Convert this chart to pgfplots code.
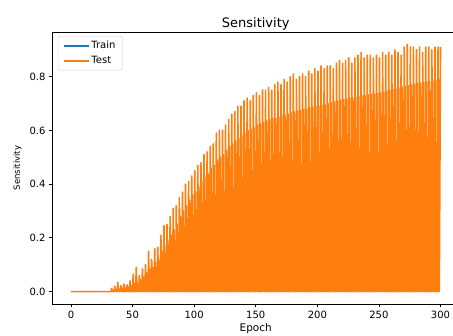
\documentclass[border=0pt]{standalone}
\usepackage{pgfplots}
\pgfplotsset{compat=1.18}
\usepackage{fontspec}
\setmainfont{DejaVu Sans}
\definecolor{mplblue}{HTML}{1F77B4}
\definecolor{mplorange}{HTML}{FF7F0E}
\begin{document}
\begin{tikzpicture}
\useasboundingbox (-52.5pt,-32pt) rectangle (400.5pt,304pt);
\begin{axis}[
  at={(0pt,0pt)}, anchor=south west,
  scale only axis, width=406.5pt, height=272pt,
  xmin=-15, xmax=315, ymin=-0.046, ymax=0.966,
  xtick={0,50,100,150,200,250,300},
  ytick={0,0.2,0.4,0.6,0.8},
  yticklabel style={/pgf/number format/.cd, fixed, fixed zerofill, precision=1},
  /pgf/number format/assume math mode=true,
  tick align=outside, tick pos=left,
  major tick length=3.5pt,
  every tick/.style={black, line width=0.8pt},
  axis line style={line width=0.8pt},
  ticklabel style={font=\fontsize{10}{12}\selectfont},
  title={Sensitivity},
  title style={font=\fontsize{13}{15}\selectfont, yshift=-8pt},
  xlabel={Epoch}, ylabel={Sensitivity},
  xlabel style={font=\fontsize{10.5}{12}\selectfont, yshift=1.5pt},
  ylabel style={font=\fontsize{8.5}{10}\selectfont, yshift=1pt},
  legend cell align=left,
  legend style={draw=black!20, rounded corners=2pt, font=\fontsize{10}{12}\selectfont,
    at={(0.013,0.985)}, anchor=north west, inner xsep=5pt, inner ysep=3pt, row sep=2pt},
  legend image code/.code={\draw[#1, line width=1.5pt] (0pt,0pt) -- (25pt,0pt);},
]
\addplot[mplblue, line width=1.5pt] coordinates {(0,0) (32.5,0)};
\addlegendentry{Train}
\addplot[mplorange, line width=1.6pt, line join=round] coordinates {
(0,0)
(32.5,0) (33,0.012) (33.4,0.003) (33.7,0.006) (34,0)
(35,0) (35.5,0.02) (35.9,0.004) (36.2,0.01) (36.5,0)
(37.5,0) (38,0.035) (38.4,0.005) (38.7,0.012) (39,0)
(40,0) (40.5,0.022) (40.9,0.006) (41.2,0.014) (41.5,0)
(42.5,0) (43,0.028) (43.4,0.007) (43.7,0.015) (44,0)
(45,0) (45.5,0.025) (45.9,0.008) (46.2,0.018) (46.5,0)
(47.5,0) (48,0.04) (48.4,0.01) (48.7,0.022) (49,0)
(50,0) (50.5,0.065) (50.9,0.012) (51.2,0.03) (51.5,0)
(52.5,0) (53,0.09) (53.4,0.014) (53.7,0.04) (54,0)
(55,0) (55.5,0.06) (55.9,0.016) (56.2,0.045) (56.5,0)
(57.5,0) (58,0.085) (58.4,0.018) (58.7,0.055) (59,0)
(60,0) (60.5,0.10) (60.9,0.02) (61.2,0.07) (61.5,0)
(62.5,0) (63,0.15) (63.4,0.03) (63.7,0.085) (64,0)
(65,0) (65.5,0.12) (65.9,0.04) (66.2,0.09) (66.5,0)
(67.5,0) (68,0.16) (68.4,0.045) (68.7,0.11) (69,0)
(70,0) (70.5,0.165) (70.9,0.05) (71.2,0.12) (71.5,0)
(72.5,0) (73,0.21) (73.4,0.055) (73.7,0.15) (74,0)
(75,0) (75.5,0.245) (75.9,0.06) (76.2,0.17) (76.5,0)
(77.5,0) (78,0.25) (78.4,0.065) (78.7,0.19) (79,0)
(80,0) (80.5,0.28) (80.9,0.07) (81.2,0.21) (81.5,0)
(82.5,0) (83,0.31) (83.4,0.075) (83.7,0.23) (84,0)
(85,0) (85.5,0.32) (85.9,0.08) (86.2,0.25) (86.5,0)
(87.5,0) (88,0.35) (88.4,0.085) (88.7,0.28) (89,0)
(90,0) (90.5,0.37) (90.9,0.09) (91.2,0.30) (91.5,0)
(92.5,0) (93,0.40) (93.4,0.095) (93.7,0.32) (94,0)
(95,0) (95.5,0.41) (95.9,0.10) (96.2,0.34) (96.5,0)
(97.5,0) (98,0.43) (98.4,0.105) (98.7,0.36) (99,0)
(100,0) (100.5,0.45) (100.9,0.11) (101.2,0.37) (101.5,0)
(102.5,0) (103,0.47) (103.4,0.115) (103.7,0.39) (104,0)
(105,0) (105.5,0.48) (105.9,0.12) (106.2,0.41) (106.5,0)
(107.5,0) (108,0.51) (108.4,0.123) (108.7,0.43) (109,0)
(110,0) (110.5,0.52) (110.9,0.126) (111.2,0.44) (111.5,0)
(112.5,0) (113,0.54) (113.4,0.13) (113.7,0.46) (114,0)
(115,0) (115.5,0.55) (115.9,0.133) (116.2,0.47) (116.5,0)
(117.5,0) (118,0.59) (118.4,0.136) (118.7,0.49) (119,0)
(120,0) (120.5,0.60) (120.9,0.14) (121.2,0.50) (121.5,0)
(122.5,0) (123,0.60) (123.4,0.143) (123.7,0.51) (124,0)
(125,0) (125.5,0.62) (125.9,0.146) (126.2,0.525) (126.5,0)
(127.5,0) (128,0.64) (128.4,0.15) (128.7,0.54) (129,0)
(130,0) (130.5,0.66) (130.9,0.152) (131.2,0.55) (131.5,0)
(132.5,0) (133,0.67) (133.4,0.155) (133.7,0.56) (134,0)
(135,0) (135.5,0.69) (135.9,0.158) (136.2,0.57) (136.5,0)
(137.5,0) (138,0.69) (138.4,0.16) (138.7,0.58) (139,0)
(140,0) (140.5,0.71) (140.9,0.163) (141.2,0.59) (141.5,0)
(142.5,0) (143,0.72) (143.4,0.166) (143.7,0.60) (144,0)
(145,0) (145.5,0.71) (145.9,0.17) (146.2,0.605) (146.5,0)
(147.5,0) (148,0.73) (148.4,0.173) (148.7,0.61) (149,0)
(150,0) (150.5,0.74) (150.9,0.176) (151.2,0.62) (151.5,0)
(152.5,0) (153,0.73) (153.4,0.179) (153.7,0.625) (154,0)
(155,0) (155.5,0.75) (155.9,0.182) (156.2,0.63) (156.5,0)
(157.5,0) (158,0.75) (158.4,0.185) (158.7,0.635) (159,0)
(160,0) (160.5,0.76) (160.9,0.188) (161.2,0.64) (161.5,0)
(162.5,0) (163,0.75) (163.4,0.19) (163.7,0.645) (164,0)
(165,0) (165.5,0.77) (165.9,0.193) (166.2,0.645) (166.5,0)
(167.5,0) (168,0.78) (168.4,0.196) (168.7,0.65) (169,0)
(170,0) (170.5,0.77) (170.9,0.198) (171.2,0.655) (171.5,0)
(172.5,0) (173,0.79) (173.4,0.20) (173.7,0.66) (174,0)
(175,0) (175.5,0.78) (175.9,0.203) (176.2,0.66) (176.5,0)
(177.5,0) (178,0.80) (178.4,0.205) (178.7,0.665) (179,0)
(180,0) (180.5,0.81) (180.9,0.207) (181.2,0.67) (181.5,0)
(182.5,0) (183,0.79) (183.4,0.209) (183.7,0.672) (184,0)
(185,0) (185.5,0.80) (185.9,0.211) (186.2,0.675) (186.5,0)
(187.5,0) (188,0.81) (188.4,0.213) (188.7,0.678) (189,0)
(190,0) (190.5,0.80) (190.9,0.215) (191.2,0.68) (191.5,0)
(192.5,0) (193,0.82) (193.4,0.217) (193.7,0.684) (194,0)
(195,0) (195.5,0.81) (195.9,0.219) (196.2,0.687) (196.5,0)
(197.5,0) (198,0.83) (198.4,0.221) (198.7,0.69) (199,0)
(200,0) (200.5,0.82) (200.9,0.223) (201.2,0.69) (201.5,0)
(202.5,0) (203,0.84) (203.4,0.225) (203.7,0.693) (204,0)
(205,0) (205.5,0.83) (205.9,0.227) (206.2,0.696) (206.5,0)
(207.5,0) (208,0.84) (208.4,0.229) (208.7,0.70) (209,0)
(210,0) (210.5,0.84) (210.9,0.231) (211.2,0.703) (211.5,0)
(212.5,0) (213,0.83) (213.4,0.233) (213.7,0.706) (214,0)
(215,0) (215.5,0.85) (215.9,0.235) (216.2,0.709) (216.5,0)
(217.5,0) (218,0.86) (218.4,0.236) (218.7,0.712) (219,0)
(220,0) (220.5,0.85) (220.9,0.238) (221.2,0.715) (221.5,0)
(222.5,0) (223,0.86) (223.4,0.24) (223.7,0.717) (224,0)
(225,0) (225.5,0.87) (225.9,0.241) (226.2,0.72) (226.5,0)
(227.5,0) (228,0.85) (228.4,0.243) (228.7,0.722) (229,0)
(230,0) (230.5,0.87) (230.9,0.244) (231.2,0.724) (231.5,0)
(232.5,0) (233,0.88) (233.4,0.246) (233.7,0.726) (234,0)
(235,0) (235.5,0.89) (235.9,0.247) (236.2,0.728) (236.5,0)
(237.5,0) (238,0.87) (238.4,0.248) (238.7,0.73) (239,0)
(240,0) (240.5,0.88) (240.9,0.25) (241.2,0.732) (241.5,0)
(242.5,0) (243,0.88) (243.4,0.251) (243.7,0.734) (244,0)
(245,0) (245.5,0.87) (245.9,0.252) (246.2,0.736) (246.5,0)
(247.5,0) (248,0.88) (248.4,0.253) (248.7,0.738) (249,0)
(250,0) (250.5,0.87) (250.9,0.254) (251.2,0.74) (251.5,0)
(252.5,0) (253,0.89) (253.4,0.255) (253.7,0.743) (254,0)
(255,0) (255.5,0.88) (255.9,0.256) (256.2,0.746) (256.5,0)
(257.5,0) (258,0.89) (258.4,0.257) (258.7,0.749) (259,0)
(260,0) (260.5,0.88) (260.9,0.258) (261.2,0.752) (261.5,0)
(262.5,0) (263,0.90) (263.4,0.259) (263.7,0.755) (264,0)
(265,0) (265.5,0.89) (265.9,0.26) (266.2,0.758) (266.5,0)
(267.5,0) (268,0.88) (268.4,0.26) (268.7,0.761) (269,0)
(270,0) (270.5,0.91) (270.9,0.261) (271.2,0.764) (271.5,0)
(272.5,0) (273,0.92) (273.4,0.262) (273.7,0.767) (274,0)
(275,0) (275.5,0.91) (275.9,0.262) (276.2,0.77) (276.5,0)
(277.5,0) (278,0.91) (278.4,0.263) (278.7,0.772) (279,0)
(280,0) (280.5,0.90) (280.9,0.263) (281.2,0.774) (281.5,0)
(282.5,0) (283,0.91) (283.4,0.264) (283.7,0.776) (284,0)
(285,0) (285.5,0.89) (285.9,0.264) (286.2,0.778) (286.5,0)
(287.5,0) (288,0.91) (288.4,0.265) (288.7,0.78) (289,0)
(290,0) (290.5,0.91) (290.9,0.265) (291.2,0.782) (291.5,0)
(292.5,0) (293,0.90) (293.4,0.266) (293.7,0.784) (294,0)
(295,0) (295.5,0.91) (295.9,0.266) (296.2,0.786) (296.5,0)
(297.5,0) (298,0.91) (298.4,0.267) (298.7,0.788) (299,0)
(300,0.91)
};
\addlegendentry{Test}
\end{axis}
\end{tikzpicture}
\end{document}
